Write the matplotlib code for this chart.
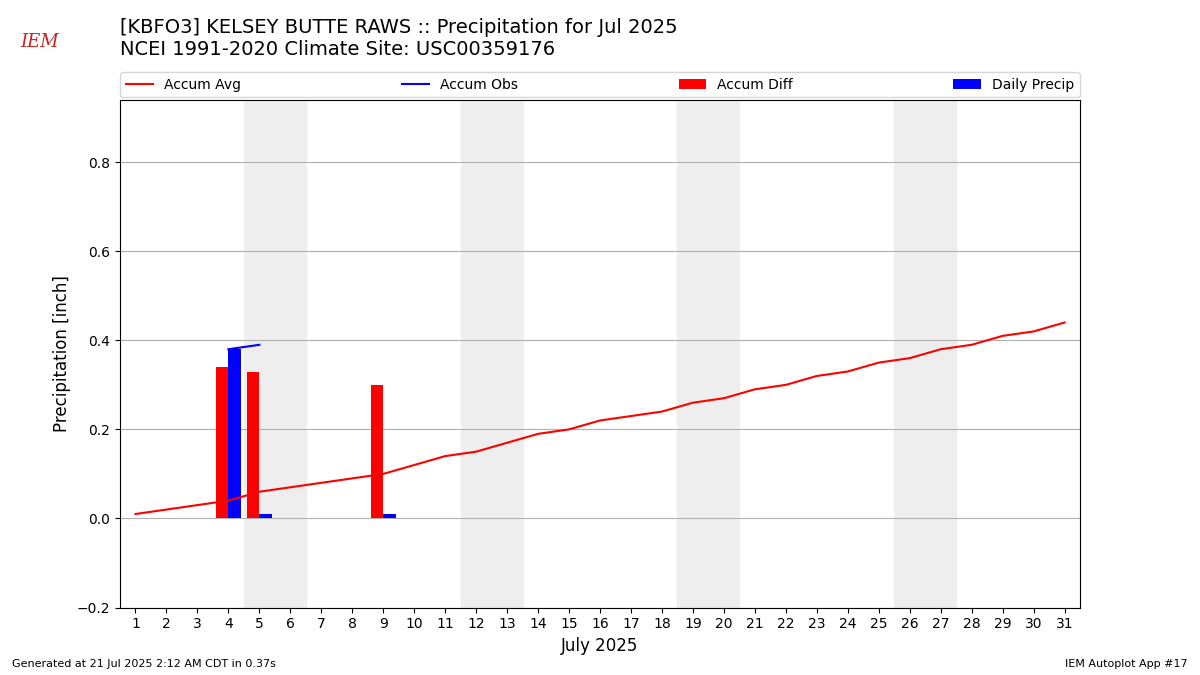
import matplotlib
matplotlib.use("Agg")
import matplotlib.pyplot as plt
import numpy as np

days = list(range(1, 32))
accum_avg = [0.01,0.02,0.03,0.04,0.06,0.07,0.08,0.09,0.10,0.12,0.14,0.15,0.17,0.19,0.20,0.22,0.23,0.24,0.26,0.27,0.29,0.30,0.32,0.33,0.35,0.36,0.38,0.39,0.41,0.42,0.44]
obs_days = [4, 5]
accum_obs = [0.38, 0.39]
diff_days = [4, 5, 9]
accum_diff = [0.34, 0.33, 0.30]
precip_days = [4, 5, 9]
daily_precip = [0.38, 0.01, 0.01]
weekends = [5, 12, 19, 26]

fig = plt.figure(figsize=(12, 6.75), dpi=100)
ax = fig.add_axes([0.1, 0.1, 0.8, 0.752])
for w in weekends:
    ax.axvspan(w - 0.5, w + 1.5, color="#eeeeee", zorder=0)
ax.plot(days, accum_avg, color="red", label="Accum Avg", zorder=3)
ax.plot(obs_days, accum_obs, color="blue", label="Accum Obs", zorder=3)
ax.bar(np.array(diff_days) - 0.2, accum_diff, width=0.4, color="red", label="Accum Diff", zorder=2)
ax.bar(np.array(precip_days) + 0.2, daily_precip, width=0.4, color="blue", label="Daily Precip", zorder=2)
ax.set_xlim(0.5, 31.5)
ax.set_ylim(-0.2, 0.94)
ax.set_xticks(days)
ax.set_yticks([-0.2, 0.0, 0.2, 0.4, 0.6, 0.8])
ax.yaxis.grid(True, color="#b0b0b0")
ax.set_axisbelow(True)
ax.set_xlabel("July 2025", fontsize=12)
ax.set_ylabel("Precipitation [inch]", fontsize=12)
ax.legend(loc="lower left", bbox_to_anchor=(0, 1.005, 1, 0.05), ncol=4, mode="expand",
          borderaxespad=0, fontsize=10)
fig.text(0.1, 0.945, "[KBFO3] KELSEY BUTTE RAWS :: Precipitation for Jul 2025", fontsize=14, va="bottom")
fig.text(0.1, 0.912, "NCEI 1991-2020 Climate Site: USC00359176", fontsize=14, va="bottom")
fig.text(0.01, 0.012, "Generated at 21 Jul 2025 2:12 AM CDT in 0.37s", fontsize=8)
fig.text(0.99, 0.012, "IEM Autoplot App #17", fontsize=8, ha="right")
fig.text(0.017, 0.93, "IEM", fontsize=13, color="#cc2222", fontstyle="italic", family="DejaVu Serif")
fig.savefig("out.png")
